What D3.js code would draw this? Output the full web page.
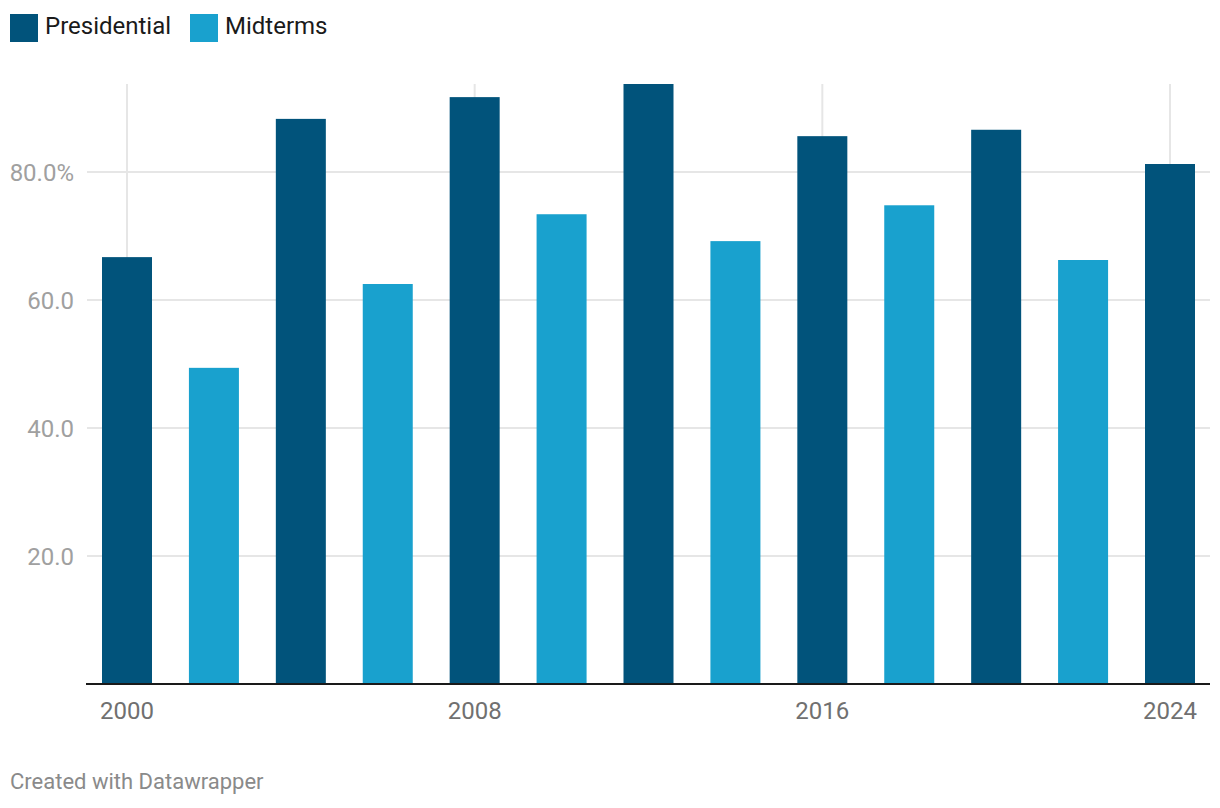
<!DOCTYPE html>
<html>
<head>
<meta charset="utf-8">
<script src="https://cdn.jsdelivr.net/npm/d3@7"></script>
<style>
  body { margin: 0; background: #fff; font-family: Roboto, sans-serif; }
  .grid line { stroke: #e6e6e6; stroke-width: 2; }
</style>
</head>
<body>
<div id="chart"></div>
<script>
var years = [2000, 2002, 2004, 2006, 2008, 2010, 2012, 2014, 2016, 2018, 2020, 2022, 2024];
var types = ["Presidential", "Midterms", "Presidential", "Midterms", "Presidential", "Midterms", "Presidential",
    "Midterms", "Presidential", "Midterms", "Presidential", "Midterms", "Presidential"];
var turnout = [66.7, 49.4, 88.3, 62.5, 91.7, 73.4, 93.75, 69.2, 85.6, 74.8, 86.6, 66.25, 81.25];
var yTicks = [20, 40, 60, 80];
var xTicks = [2000, 2008, 2016, 2024];
var series = ["Presidential", "Midterms"];
var colors = ["#01537b", "#19a1ce"];

var width = 1220, height = 808;
var margin = {top: 84, right: 10, bottom: 124, left: 87};

var svg = d3.select("#chart").append("svg")
    .attr("width", width)
    .attr("height", height);

var x = d3.scaleLinear()
    .domain([2000, 2024])
    .range([127, 1170]);
var barW = 50;

var y = d3.scaleLinear()
    .domain([0, d3.max(turnout)])
    .range([height - margin.bottom, margin.top]);

var color = d3.scaleOrdinal().domain(series).range(colors);

// grid
var grid = svg.append("g").attr("class", "grid");
grid.selectAll(".hg")
    .data(yTicks)
    .enter().append("line")
    .attr("x1", margin.left)
    .attr("x2", width - margin.right)
    .attr("y1", function(d) { return y(d); })
    .attr("y2", function(d) { return y(d); });
grid.selectAll(".vg")
    .data(xTicks)
    .enter().append("line")
    .attr("x1", function(d) { return x(d); })
    .attr("x2", function(d) { return x(d); })
    .attr("y1", margin.top)
    .attr("y2", y(0));

// y labels
svg.selectAll(".ylab")
    .data(yTicks)
    .enter().append("text")
    .attr("x", 74)
    .attr("y", function(d) { return y(d); })
    .attr("dy", "0.36em")
    .attr("text-anchor", "end")
    .attr("fill", "#a0a0a0")
    .style("font-size", "24px")
    .text(function(d) { return d === 80 ? d.toFixed(1) + "%" : d.toFixed(1); });

// bars
svg.selectAll(".bar")
    .data(years)
    .enter().append("rect")
    .attr("x", function(d) { return x(d) - barW / 2; })
    .attr("width", barW)
    .attr("y", function(d, i) { return y(turnout[i]); })
    .attr("height", function(d, i) { return y(0) - y(turnout[i]); })
    .attr("fill", function(d, i) { return color(types[i]); });

// baseline
svg.append("line")
    .attr("x1", margin.left - 1)
    .attr("x2", width - margin.right)
    .attr("y1", y(0))
    .attr("y2", y(0))
    .attr("stroke", "#1a1a1a")
    .attr("stroke-width", 2);

// x labels
svg.selectAll(".xlab")
    .data(xTicks)
    .enter().append("text")
    .attr("x", function(d) { return x(d); })
    .attr("y", 719)
    .attr("text-anchor", "middle")
    .attr("fill", "#707070")
    .style("font-size", "24px")
    .text(function(d) { return d; });

// legend
var legend = svg.selectAll(".legend")
    .data(series)
    .enter().append("g")
    .attr("transform", function(d, i) { return "translate(" + (10 + i * 180) + ",14)"; });
legend.append("rect")
    .attr("width", 28)
    .attr("height", 28)
    .attr("fill", function(d) { return color(d); });
legend.append("text")
    .attr("x", 35)
    .attr("y", 20)
    .attr("fill", "#1a1a1a")
    .style("font-size", "24px")
    .text(function(d) { return d; });

// footer
svg.append("text")
    .attr("x", 10)
    .attr("y", 789)
    .attr("fill", "#8a8a8a")
    .style("font-size", "22px")
    .text("Created with Datawrapper");
</script>
</body>
</html>
